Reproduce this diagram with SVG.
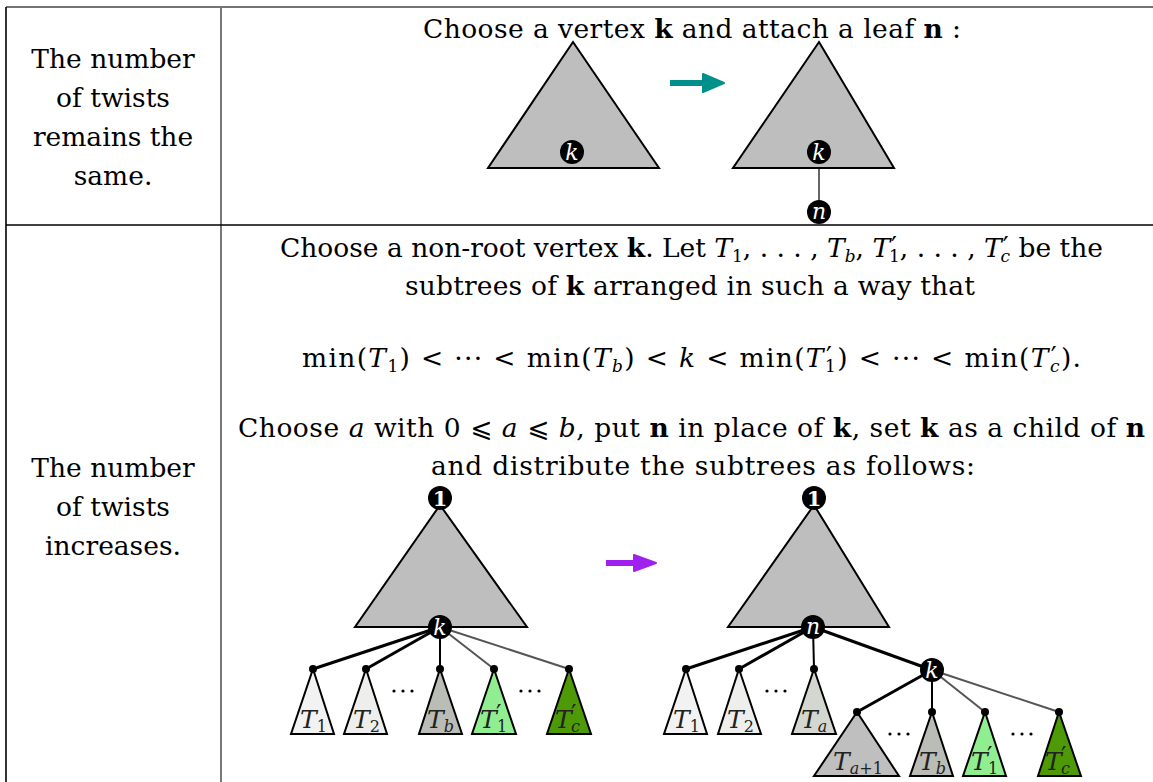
<svg xmlns="http://www.w3.org/2000/svg" width="1153" height="782" viewBox="0 0 1153 782">
<defs>
<style>
.t{font-family:"DejaVu Serif","DejaVu Sans",serif;font-size:26.5px;fill:#000}
.c{text-anchor:middle}
.i{font-style:italic}
.b{font-weight:bold}
.s{font-size:17px}
.p{font-size:26px}
.tri{stroke:#000;stroke-width:2;stroke-linejoin:miter}
.big{fill:#bebebe}
.node{fill:#000}
.nl{font-family:"DejaVu Serif",serif;font-size:22px;font-style:italic;fill:#fff;text-anchor:middle}
.one{font-family:"DejaVu Serif",serif;font-size:21px;font-weight:bold;fill:#fff;text-anchor:middle}
.lab{font-family:"DejaVu Serif",serif;font-size:25px;font-style:italic;fill:#222}
.ls{font-size:16px;font-style:normal}
.lsi{font-size:16px;font-style:italic}
.lp{font-size:24px;font-style:normal}
.e3{stroke:#000;stroke-width:3}
.e2{stroke:#000;stroke-width:2}
.eg{stroke:#555;stroke-width:2}
.dot{fill:#000}
</style>
</defs>

<g id="table">
<line x1="6" y1="7" x2="1153" y2="7" stroke="#444" stroke-width="1.6"/>
<line x1="6" y1="7" x2="6" y2="782" stroke="#000" stroke-width="1.6"/>
<line x1="221" y1="7" x2="221" y2="782" stroke="#777" stroke-width="2"/>
<line x1="6" y1="225" x2="1153" y2="225" stroke="#000" stroke-width="1.6"/>
</g>

<g id="row1-label">
<text class="t c" x="113" y="68">The number</text>
<text class="t c" x="113" y="107">of twists</text>
<text class="t c" x="113" y="146">remains the</text>
<text class="t c" x="113" y="185">same.</text>
</g>

<g id="row2-label">
<text class="t c" x="113" y="477">The number</text>
<text class="t c" x="113" y="516">of twists</text>
<text class="t c" x="113" y="555">increases.</text>
</g>

<g id="row1-text">
<text class="t" x="423" y="38" textLength="538">Choose a vertex <tspan class="b">k</tspan> and attach a leaf <tspan class="b">n</tspan> :</text>
</g>

<g id="row2-text">
<text class="t" x="280" y="257" textLength="823">Choose a non-root vertex <tspan class="b">k</tspan>. Let <tspan class="i">T</tspan><tspan class="s" dy="5">1</tspan><tspan dy="-5">, . . . , </tspan><tspan class="i">T</tspan><tspan class="s i" dy="5">b</tspan><tspan dy="-5">, </tspan><tspan class="i">T</tspan><tspan class="p" dx="1" dy="-2">′</tspan><tspan class="s" dx="-8" dy="7">1</tspan><tspan dy="-5">, . . . , </tspan><tspan class="i">T</tspan><tspan class="p" dx="1" dy="-2">′</tspan><tspan class="s i" dx="-8" dy="7">c</tspan><tspan dy="-5"> be the</tspan></text>
<text class="t" x="405" y="295" textLength="570">subtrees of <tspan class="b">k</tspan> arranged in such a way that</text>
<text class="t" x="302" y="367" textLength="779">min(<tspan class="i">T</tspan><tspan class="s" dy="5">1</tspan><tspan dy="-5">) &lt; ··· &lt; min(</tspan><tspan class="i">T</tspan><tspan class="s i" dy="5">b</tspan><tspan dy="-5">) &lt; </tspan><tspan class="i">k</tspan> &lt; min(<tspan class="i">T</tspan><tspan class="p" dx="1" dy="-2">′</tspan><tspan class="s" dx="-8" dy="7">1</tspan><tspan dy="-5">) &lt; ··· &lt; min(</tspan><tspan class="i">T</tspan><tspan class="p" dx="1" dy="-2">′</tspan><tspan class="s i" dx="-8" dy="7">c</tspan><tspan dy="-5">).</tspan></text>
<text class="t" x="238" y="437" textLength="907">Choose <tspan class="i">a</tspan> with 0 ⩽ <tspan class="i">a</tspan> ⩽ <tspan class="i">b</tspan>, put <tspan class="b">n</tspan> in place of <tspan class="b">k</tspan>, set <tspan class="b">k</tspan> as a child of <tspan class="b">n</tspan></text>
<text class="t" x="431" y="475" textLength="544">and distribute the subtrees as follows:</text>
</g>

<g id="arrows">
<g id="arrow-teal" fill="#00908c" stroke="#00908c">
<line x1="670" y1="83" x2="706" y2="83" stroke-width="6"/>
<polygon points="703,74 724,83 703,92" stroke-width="2" stroke-linejoin="round"/>
</g>
<g id="arrow-purple" fill="#a020f0" stroke="#a020f0">
<line x1="606" y1="563" x2="636" y2="563" stroke-width="6"/>
<polygon points="634,555 656,563 634,571" stroke-width="2" stroke-linejoin="round"/>
</g>
</g>

<g id="connectors">
<line x1="819" y1="152" x2="819" y2="212" stroke="#666" stroke-width="2"/>
<line class="e3" x1="440" y1="627" x2="313" y2="669"/>
<line class="e3" x1="440" y1="627" x2="366" y2="669"/>
<line class="e2" x1="440" y1="627" x2="440" y2="669"/>
<line class="eg" x1="440" y1="627" x2="494" y2="669"/>
<line class="eg" x1="440" y1="627" x2="569" y2="669"/>
<line class="e3" x1="813" y1="627" x2="686" y2="669"/>
<line class="e3" x1="813" y1="627" x2="739" y2="669"/>
<line class="e2" x1="813" y1="627" x2="814" y2="669"/>
<line class="e3" x1="813" y1="627" x2="932" y2="670"/>
<line class="e3" x1="932" y1="670" x2="857" y2="712"/>
<line class="e2" x1="932" y1="670" x2="932" y2="712"/>
<line class="eg" x1="932" y1="670" x2="985" y2="712"/>
<line class="eg" x1="932" y1="670" x2="1059" y2="712"/>
</g>

<g id="tree-top-left">
<polygon class="tri big" points="573,42 659,168 488,168"/>
<g id="node-k-top-left"><circle class="node" cx="572" cy="152" r="12"/><text class="nl" x="572" y="160">k</text></g>
</g>

<g id="tree-top-right">
<polygon class="tri big" points="819,42 894,168 733,168"/>
<g id="node-k-top-right"><circle class="node" cx="819" cy="152" r="12"/><text class="nl" x="819" y="160">k</text></g>
<g id="node-n-top-right"><circle class="node" cx="819" cy="212" r="12"/><text class="nl" x="819" y="219">n</text></g>
</g>

<g id="tree-bottom-left">
<polygon class="tri big" points="440,505 527,627 355,627"/>
<g id="node-1-left"><circle class="node" cx="440" cy="498" r="12"/><text class="one" x="440" y="506">1</text></g>
<g id="node-k-left"><circle class="node" cx="440" cy="627" r="12"/><text class="nl" x="440" y="635">k</text></g>
<g id="sub-T1-left"><polygon class="tri" fill="#f2f2f2" points="313,669 334,734 291,734"/><circle class="dot" cx="313" cy="669" r="4"/><text class="lab" x="300" y="728">T<tspan class="ls" dy="4">1</tspan></text></g>
<g id="sub-T2-left"><polygon class="tri" fill="#eeeeec" points="366,669 387,734 344,734"/><circle class="dot" cx="366" cy="669" r="4"/><text class="lab" x="353" y="728">T<tspan class="ls" dy="4">2</tspan></text></g>
<g id="sub-Tb-left"><polygon class="tri" fill="#babdb6" points="440,669 462,734 419,734"/><circle class="dot" cx="440" cy="669" r="4"/><text class="lab" x="427" y="728">T<tspan class="lsi" dy="4">b</tspan></text></g>
<g id="sub-T1p-left"><polygon class="tri" fill="#90ee90" points="494,669 516,734 472,734"/><circle class="dot" cx="494" cy="669" r="4"/><text class="lab" x="480" y="728">T</text><text class="lab lp" x="496" y="722">′</text><text class="lab ls" x="497" y="732">1</text></g>
<g id="sub-Tcp-left"><polygon class="tri" fill="#4e9a06" points="569,669 591,734 547,734"/><circle class="dot" cx="569" cy="669" r="4"/><text class="lab" x="555" y="728">T</text><text class="lab lp" x="571" y="722">′</text><text class="lab lsi" x="571" y="732">c</text></g>
<g id="ellipsis-left" class="dot"><circle cx="394" cy="691" r="1.6"/><circle cx="403" cy="691" r="1.6"/><circle cx="412" cy="691" r="1.6"/><circle cx="521" cy="691" r="1.6"/><circle cx="530" cy="691" r="1.6"/><circle cx="539" cy="691" r="1.6"/></g>
</g>

<g id="tree-bottom-right">
<polygon class="tri big" points="814,505 889,627 728,627"/>
<g id="node-1-right"><circle class="node" cx="814" cy="498" r="12"/><text class="one" x="814" y="506">1</text></g>
<g id="node-n-right"><circle class="node" cx="813" cy="627" r="12"/><text class="nl" x="813" y="634">n</text></g>
<g id="node-k-right"><circle class="node" cx="932" cy="670" r="12"/><text class="nl" x="932" y="678">k</text></g>
<g id="sub-T1-right"><polygon class="tri" fill="#f2f2f2" points="686,669 707,734 664,734"/><circle class="dot" cx="686" cy="669" r="4"/><text class="lab" x="673" y="728">T<tspan class="ls" dy="4">1</tspan></text></g>
<g id="sub-T2-right"><polygon class="tri" fill="#eeeeec" points="739,669 761,734 718,734"/><circle class="dot" cx="739" cy="669" r="4"/><text class="lab" x="727" y="728">T<tspan class="ls" dy="4">2</tspan></text></g>
<g id="sub-Ta-right"><polygon class="tri" fill="#d3d7cf" points="814,669 836,734 792,734"/><circle class="dot" cx="814" cy="669" r="4"/><text class="lab" x="801" y="728">T<tspan class="lsi" dy="4">a</tspan></text></g>
<g id="sub-Ta1-right"><polygon class="tri" fill="#bfbfbf" points="857,712 899,776 814,776"/><circle class="dot" cx="857" cy="712" r="4"/><text class="lab" x="833" y="770">T<tspan class="lsi" dy="4">a</tspan><tspan class="ls">+1</tspan></text></g>
<g id="sub-Tb-right"><polygon class="tri" fill="#babdb6" points="932,712 953,776 910,776"/><circle class="dot" cx="932" cy="712" r="4"/><text class="lab" x="919" y="770">T<tspan class="lsi" dy="4">b</tspan></text></g>
<g id="sub-T1p-right"><polygon class="tri" fill="#90ee90" points="985,712 1006,776 963,776"/><circle class="dot" cx="985" cy="712" r="4"/><text class="lab" x="971" y="770">T</text><text class="lab lp" x="987" y="764">′</text><text class="lab ls" x="988" y="774">1</text></g>
<g id="sub-Tcp-right"><polygon class="tri" fill="#4e9a06" points="1059,712 1081,776 1038,776"/><circle class="dot" cx="1059" cy="712" r="4"/><text class="lab" x="1045" y="770">T</text><text class="lab lp" x="1061" y="764">′</text><text class="lab lsi" x="1061" y="774">c</text></g>
<g id="ellipsis-right" class="dot"><circle cx="767" cy="691" r="1.6"/><circle cx="776" cy="691" r="1.6"/><circle cx="785" cy="691" r="1.6"/><circle cx="890" cy="734" r="1.6"/><circle cx="899" cy="734" r="1.6"/><circle cx="908" cy="734" r="1.6"/><circle cx="1013" cy="734" r="1.6"/><circle cx="1022" cy="734" r="1.6"/><circle cx="1031" cy="734" r="1.6"/></g>
</g>
</svg>
